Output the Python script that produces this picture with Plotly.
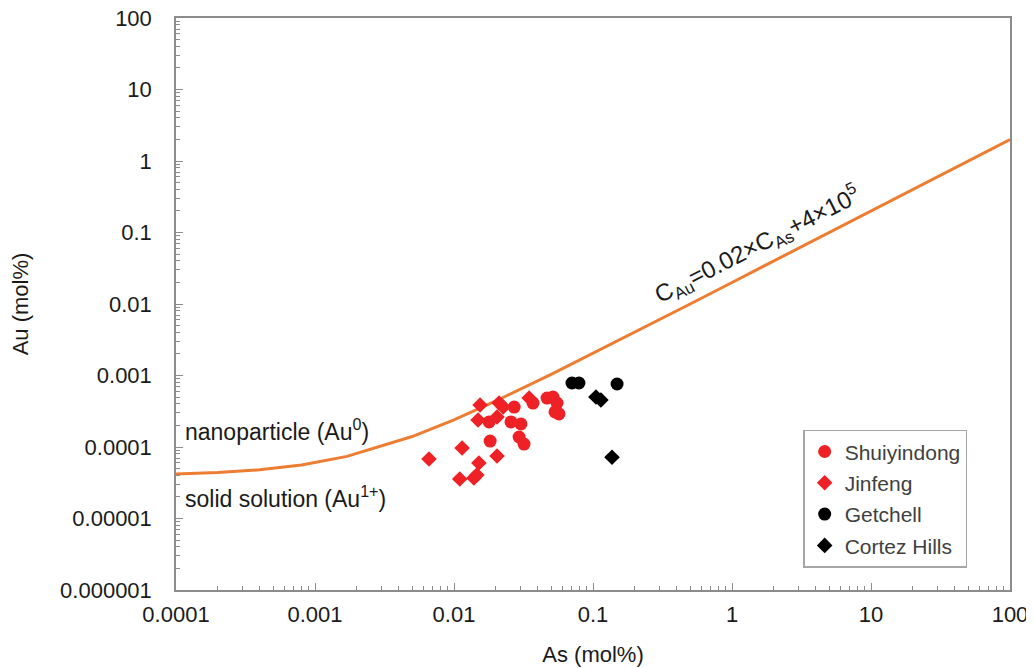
import plotly.graph_objects as go
import math

# Reference curve (C_Au = 0.02*C_As + 4e-5)
curve_as = [0.0001, 0.0002, 0.0004, 0.0008, 0.0017, 0.005, 0.01, 0.02, 0.05, 0.1, 0.2, 0.5, 1, 2, 5, 10, 20, 50, 100]
curve_au = [4.2e-5, 4.4e-5, 4.8e-5, 5.6e-5, 7.4e-5, 1.4e-4, 2.4e-4, 4.4e-4, 1.04e-3, 2.04e-3, 4.0e-3, 0.01, 0.02, 0.04, 0.1, 0.2, 0.4, 1.0, 2.0]

shui_as = [0.0179, 0.0182, 0.0271, 0.0257, 0.0303, 0.0294, 0.0319, 0.0370, 0.0467, 0.0515, 0.0551, 0.0533, 0.0569]
shui_au = [2.24e-4, 1.21e-4, 3.62e-4, 2.24e-4, 2.10e-4, 1.38e-4, 1.10e-4, 4.12e-4, 4.84e-4, 5.0e-4, 4.12e-4, 3.09e-4, 2.90e-4]

jin_as = [0.00661, 0.01143, 0.0204, 0.0151, 0.0110, 0.0139, 0.0146, 0.0154, 0.0149, 0.0204, 0.0211, 0.0226, 0.0347]
jin_au = [6.8e-5, 9.7e-5, 7.5e-5, 5.97e-5, 3.57e-5, 3.68e-5, 4.06e-5, 3.87e-4, 2.39e-4, 2.63e-4, 4.12e-4, 3.62e-4, 4.84e-4]

get_as = [0.0706, 0.0792, 0.149]
get_au = [7.85e-4, 7.85e-4, 7.6e-4]

cor_as = [0.105, 0.114, 0.137]
cor_au = [5.0e-4, 4.54e-4, 7.2e-5]

tick_vals_x = [0.0001, 0.001, 0.01, 0.1, 1, 10, 100]
tick_text_x = ["0.0001", "0.001", "0.01", "0.1", "1", "10", "100"]
tick_vals_y = [0.000001, 0.00001, 0.0001, 0.001, 0.01, 0.1, 1, 10, 100]
tick_text_y = ["0.000001", "0.00001", "0.0001", "0.001", "0.01", "0.1", "1", "10", "100"]

FONT = "Arial, Liberation Sans, Helvetica, sans-serif"
RED = "#ee2226"
TXT = "#1a1a1a"

fig = go.Figure()
fig.add_trace(go.Scatter(x=curve_as, y=curve_au, mode="lines",
                         line=dict(color="#ed7d31", width=3), showlegend=False, hoverinfo="skip"))
fig.add_trace(go.Scatter(x=shui_as, y=shui_au, mode="markers", name="Shuiyindong", legendgroup="a",
                         marker=dict(symbol="circle", size=13, color=RED)))
fig.add_trace(go.Scatter(x=jin_as, y=jin_au, mode="markers", name="Jinfeng", legendgroup="b",
                         marker=dict(symbol="diamond", size=12, color=RED)))
fig.add_trace(go.Scatter(x=get_as, y=get_au, mode="markers", name="Getchell", legendgroup="c",
                         marker=dict(symbol="circle", size=13, color="black")))
fig.add_trace(go.Scatter(x=cor_as, y=cor_au, mode="markers", name="Cortez Hills", legendgroup="d",
                         marker=dict(symbol="diamond", size=12, color="black")))

axis_common = dict(
    type="log", showgrid=False, zeroline=False,
    showline=True, linecolor="#8c8c8c", linewidth=1.5, mirror=True,
    ticks="inside", ticklen=7, tickcolor="#8c8c8c", tickwidth=1,
    minor=dict(ticks="inside", ticklen=4, tickcolor="#8c8c8c", dtick="D1", showgrid=False),
    tickfont=dict(family=FONT, size=22, color=TXT),
    ticklabeloverflow="allow",
)

fig.update_xaxes(**axis_common, range=[-4, 2], tickvals=tick_vals_x, ticktext=tick_text_x,
                 ticklabelstandoff=4,
                 title=dict(text="As (mol%)", font=dict(family=FONT, size=22, color=TXT), standoff=20))
fig.update_yaxes(**axis_common, range=[-6, 2], tickvals=tick_vals_y, ticktext=tick_text_y,
                 ticklabelstandoff=18,
                 title=dict(text="Au (mol%)", font=dict(family=FONT, size=22, color=TXT), standoff=30))

fig.add_annotation(x=math.log10(0.000112), y=math.log10(0.000173), xref="x", yref="y",
                   text="nanoparticle (Au<sup>0</sup>)", showarrow=False, xanchor="left",
                   font=dict(family=FONT, size=23, color=TXT))
fig.add_annotation(x=math.log10(0.000112), y=math.log10(0.00002), xref="x", yref="y",
                   text="solid solution (Au<sup>1+</sup>)", showarrow=False, xanchor="left",
                   font=dict(family=FONT, size=23, color=TXT))
fig.add_annotation(x=0.18, y=-1.175, xref="x", yref="y",
                   text="C<sub>Au</sub>=0.02×C<sub>As</sub>+4×10<sup>5</sup>", showarrow=False,
                   textangle=-27, font=dict(family=FONT, size=24, color=TXT))

fig.update_layout(
    width=1034, height=668,
    margin=dict(l=168, r=32, t=10, b=86, autoexpand=False),
    paper_bgcolor="white", plot_bgcolor="white",
    showlegend=True,
    legend=dict(x=0.752, y=0.28, xanchor="left", yanchor="top",
                bgcolor="white", bordercolor="#a6a6a6", borderwidth=1.5,
                font=dict(family=FONT, size=21, color="#404040"),
                tracegroupgap=1, itemwidth=30),
)

fig.write_html("out.html")
